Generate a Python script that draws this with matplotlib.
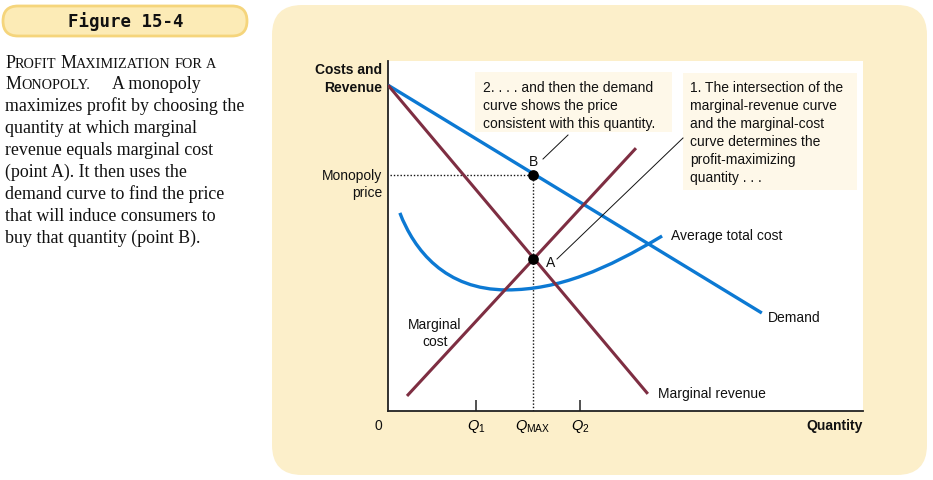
import matplotlib
matplotlib.use("Agg")
import matplotlib.pyplot as plt
from matplotlib.patches import FancyBboxPatch, Rectangle, PathPatch
from matplotlib.path import Path

plt.rcParams['mathtext.fontset'] = 'custom'
plt.rcParams['mathtext.rm'] = 'Liberation Sans'
plt.rcParams['mathtext.it'] = 'Liberation Sans:italic'
plt.rcParams['mathtext.bf'] = 'Liberation Sans:bold'

# ---------------- data (quantity 0-100, price 0-100) ----------------
demand_q = [0.0, 78.7]
demand_p = [93.1, 28.0]
mr_q = [0.0, 54.7]
mr_p = [93.1, 4.9]
mc_q = [4.0, 52.2]
mc_p = [4.3, 75.1]
# average total cost: start, minimum and end points with Bezier control points
atc_q = [2.5, 5.5, 12.0, 25.0, 36.0, 46.0, 57.7]
atc_p = [56.6, 46.0, 34.6, 34.6, 34.6, 40.5, 50.0]
q1, qmax, q2 = 18.5, 30.5, 40.4
point_a = (30.5, 43.4)
point_b = (30.5, 67.4)
tick_labels = [r"$Q_1$", r"$Q_{\mathrm{MAX}}$", r"$Q_2$"]

BLUE = '#0C79D3'
MAROON = '#7E2E42'
PANEL = '#FCEFCA'
SANS = 'Liberation Sans'
SERIF = 'Liberation Serif'

W, H = 933, 481
fig = plt.figure(figsize=(W / 100, H / 100), dpi=100)
fig.patch.set_facecolor('white')

# background axes in pixel coordinates
bg = fig.add_axes([0, 0, 1, 1])
bg.set_xlim(0, W)
bg.set_ylim(H, 0)
bg.axis('off')
bg.add_patch(FancyBboxPatch((272, 6), 655, 470, boxstyle="round,pad=0,rounding_size=30",
                            facecolor=PANEL, edgecolor='none'))
bg.add_patch(FancyBboxPatch((3, 7), 244, 30, boxstyle="round,pad=0,rounding_size=15",
                            facecolor='#FCEBB6', edgecolor='#F5D57C', linewidth=2.0))
bg.text(126, 22, "Figure 15-4", family='DejaVu Sans Mono', fontweight='bold',
        fontsize=12.5, ha='center', va='center', color='#111111')

# main plot axes
ax = fig.add_axes([388 / W, (H - 412) / H, 475 / W, 350 / H])
ax.set_facecolor('white')
ax.set_xlim(0, 100)
ax.set_ylim(0, 100)
for s in ['top', 'right']:
    ax.spines[s].set_visible(False)
for s in ['left', 'bottom']:
    ax.spines[s].set_color('#222222')
    ax.spines[s].set_linewidth(1.3)
ax.set_yticks([])
ax.set_xticks([q1, qmax, q2])
ax.set_xticklabels([])
ax.tick_params(axis='x', direction='in', length=8, width=1.1, color='#222222')
ax.xaxis.get_major_ticks()[1].tick1line.set_visible(False)

atc_path = Path(list(zip(atc_q, atc_p)),
                [Path.MOVETO, Path.CURVE4, Path.CURVE4, Path.CURVE4,
                 Path.CURVE4, Path.CURVE4, Path.CURVE4])
ax.add_patch(PathPatch(atc_path, facecolor='none', edgecolor=BLUE, lw=2.4,
                       capstyle='butt', zorder=3))
ax.plot(demand_q, demand_p, color=BLUE, lw=2.4, solid_capstyle='butt', zorder=3)
ax.plot(mr_q, mr_p, color=MAROON, lw=2.2, solid_capstyle='butt', zorder=3)
ax.plot(mc_q, mc_p, color=MAROON, lw=2.2, solid_capstyle='butt', zorder=3)
ax.plot([0.5, point_b[0]], [point_b[1], point_b[1]], color='#111111', lw=1.0,
        linestyle=(0, (1, 1.4)), zorder=2)
ax.plot([qmax, qmax], [0, point_b[1]], color='#111111', lw=1.0,
        linestyle=(0, (1, 1.4)), zorder=2)
ax.plot([point_a[0], point_b[0]], [point_a[1], point_b[1]], 'o', color='black',
        markersize=6.7, zorder=5, linestyle='none')

for q, lab in zip([q1, qmax, q2], tick_labels):
    ax.annotate(lab, xy=(q, 0), xytext=(0, -18), textcoords='offset pixels',
                ha='center', va='baseline', fontsize=10.5, family=SANS, annotation_clip=False)

# overlay for text in pixel coordinates
ov = fig.add_axes([0, 0, 1, 1])
ov.set_xlim(0, W)
ov.set_ylim(H, 0)
ov.axis('off')
ov.patch.set_alpha(0)

def t(x, y, s, **kw):
    kw.setdefault('fontsize', 10)
    kw.setdefault('family', SANS)
    kw.setdefault('va', 'baseline')
    kw.setdefault('color', '#111111')
    ov.text(x, y, s, **kw)

t(382, 74, "Costs and", ha='right', fontweight='bold')
t(382, 91.5, "Revenue", ha='right', fontweight='bold')
t(382, 180, "Monopoly", ha='right')
t(382, 197, "price", ha='right')
t(378, 430, "0", ha='center')
t(863, 430, "Quantity", ha='right', fontweight='bold')
t(534, 166.5, "B", ha='center')
t(551, 267.5, "A", ha='center')
t(671, 240.5, "Average total cost")
t(768, 322, "Demand")
t(658, 398, "Marginal revenue")
t(435, 329, "Marginal", ha='center')
t(435, 346, "cost", ha='center')

BOXC = '#FEF8E9'
ov.add_patch(Rectangle((475, 73), 197, 60, facecolor=BOXC, edgecolor='none'))
ov.add_patch(Rectangle((683, 74), 174, 117, facecolor=BOXC, edgecolor='none'))
box2 = ["2. . . . and then the demand", "curve shows the price", "consistent with this quantity."]
box1 = ["1. The intersection of the", "marginal-revenue curve", "and the marginal-cost",
        "curve determines the", "profit-maximizing", "quantity . . ."]
for i, line in enumerate(box2):
    t(483, 91.7 + 18.1 * i, line)
for i, line in enumerate(box1):
    t(690, 91.7 + 18.1 * i, line)

ov.plot([543, 568], [160, 136], color='#111111', lw=0.7)
ov.plot([557, 683], [260, 139], color='#111111', lw=0.7)

# left caption with small caps
renderer = fig.canvas.get_renderer()
FS = 12.85
SC = FS * 0.8

def tw(s, fs):
    tt = ov.text(0, 0, s, fontsize=fs, family=SERIF)
    w = tt.get_window_extent(renderer).width
    tt.remove()
    return w

def runs(x, y, items):
    for s, fs in items:
        if s.strip() == '':
            x += (tw('a a', fs) - tw('aa', fs)) * len(s)
            continue
        ov.text(x, y, s, fontsize=fs, family=SERIF, va='baseline', color='#111111')
        x += tw(s, fs)

base = [67.5, 89.4, 111.3, 133.2, 155.1, 177.0, 198.9, 220.8, 242.7]
runs(5, base[0], [('P', FS), ('ROFIT', SC), (' ', SC), ('M', FS), ('AXIMIZATION', SC),
                  (' ', SC), ('FOR', SC), (' ', SC), ('A', SC)])
runs(5, base[1], [('M', FS), ('ONOPOLY.', SC), ('     ', FS), ('A monopoly', FS)])
caption = ["maximizes profit by choosing the", "quantity at which marginal",
           "revenue equals marginal cost", "(point A). It then uses the",
           "demand curve to find the price", "that will induce consumers to",
           "buy that quantity (point B)."]
for i, line in enumerate(caption):
    ov.text(5, base[i + 2], line, fontsize=FS, family=SERIF, va='baseline', color='#111111')

fig.savefig('out.png', dpi=100)
